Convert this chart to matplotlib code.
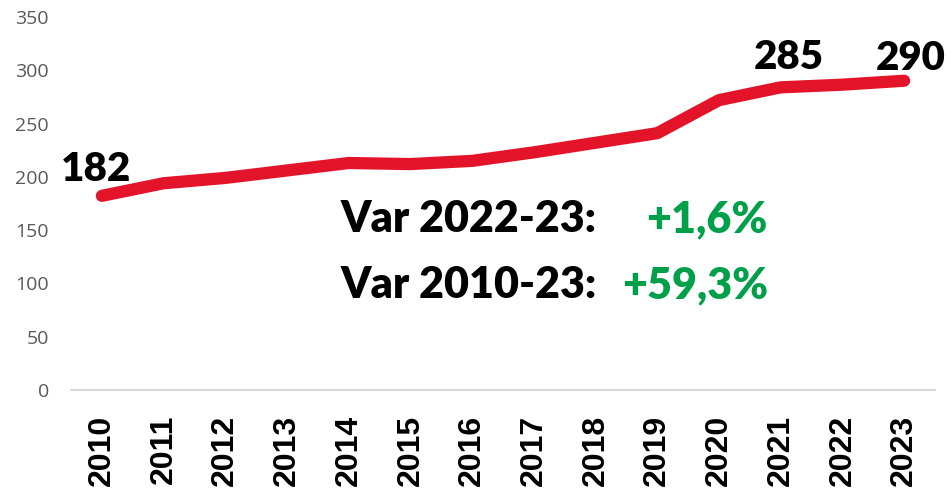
import matplotlib
matplotlib.use("Agg")
import matplotlib.pyplot as plt

years = ["2010", "2011", "2012", "2013", "2014", "2015", "2016",
         "2017", "2018", "2019", "2020", "2021", "2022", "2023"]
values = [182.2, 194, 199, 206, 213, 212, 215, 223, 232, 241, 272, 284, 286.5, 290.2]
yticks = [0, 50, 100, 150, 200, 250, 300, 350]
labelled = {0: "182", 11: "285", 13: "290"}
var_lines = [("Var 2022-23:", "+1,6%"), ("Var 2010-23:", "+59,3%")]

W, H = 951, 490
fig = plt.figure(figsize=(W / 100, H / 100), dpi=100)
ax = fig.add_axes([71 / W, 1 - 390 / H, (935 - 71) / W, (390 - 17) / H])

x = list(range(len(years)))
ax.plot(x, values, color="#E3132A", lw=8.8, solid_capstyle="round",
        solid_joinstyle="round", zorder=3)

ax.set_xlim(-0.5, len(years) - 0.5)
ax.set_ylim(0, 350)
ax.set_yticks(yticks)
ax.set_yticklabels([str(v) for v in yticks], fontsize=14, color="#595959",
                   family="Open Sans")
ax.set_xticks(x)
ax.set_xticklabels(years, rotation=90, fontsize=23, fontweight="bold",
                   family="Liberation Sans", color="black")
ax.tick_params(axis="both", length=0)
ax.tick_params(axis="x", pad=18)
ax.tick_params(axis="y", pad=16)
for s in ["top", "right", "left"]:
    ax.spines[s].set_visible(False)
ax.spines["bottom"].set_color("#D9D9D9")
ax.spines["bottom"].set_linewidth(1.5)

offsets = {0: (-5.5, 15), 11: (8, 18), 13: (6.5, 11)}
for i, txt in labelled.items():
    dx, dy = offsets[i]
    ax.annotate(txt, (x[i], values[i]), xytext=(dx, dy), textcoords="offset pixels",
                ha="center", va="baseline", fontsize=29, fontweight="heavy",
                family="Lato", color="black")

baselines = [232, 298]
for (lab, pct), by in zip(var_lines, baselines):
    fig.text(341 / W, 1 - by / H, lab, ha="left", va="baseline", fontsize=31,
             fontweight="heavy", family="Lato", color="black")
    fig.text(768 / W, 1 - by / H, pct, ha="right", va="baseline", fontsize=31,
             fontweight="heavy", family="Lato", color="#00A04B")

fig.savefig("out.png", dpi=100)
